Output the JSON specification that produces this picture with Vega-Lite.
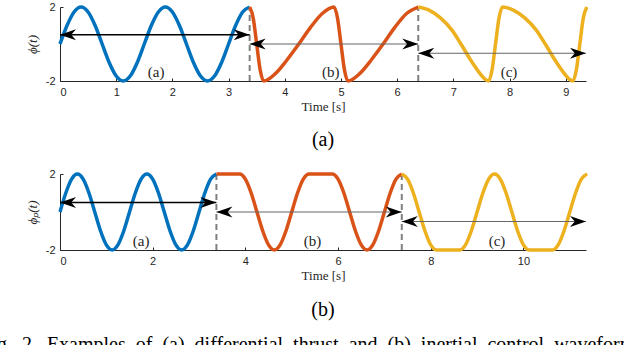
{
  "$schema": "https://vega.github.io/schema/vega-lite/v6.json",
  "background": "white",
  "padding": {"left": -20, "top": 0, "right": 0, "bottom": -10},
  "spacing": 17,
  "config": {
    "view": {"stroke": null},
    "axis": {
      "grid": false,
      "domainColor": "#262626",
      "tickColor": "#262626",
      "labelColor": "#262626",
      "titleColor": "#262626",
      "labelFont": "Liberation Sans",
      "labelFontSize": 11,
      "titleFont": "Liberation Serif",
      "titleFontSize": 13,
      "titleFontWeight": "normal",
      "tickSize": -3,
      "labelPadding": 8,
      "format": "d",
      "labelExpr": "replace(datum.label, '\u2212', '-')"
    },
    "axisY": {"titleFontStyle": "italic", "titlePadding": 6},
    "axisX": {"titlePadding": 3}
  },
  "title": {
    "text": "Fig.\u20022.\u2002Examples\u2002of\u2002(a)\u2002differential\u2002thrust\u2002and\u2002(b)\u2002inertial\u2002control\u2002waveforms.",
    "orient": "bottom",
    "anchor": "start",
    "font": "Liberation Serif",
    "fontSize": 20,
    "fontWeight": "normal",
    "color": "#000000",
    "offset": 15,
    "dx": -46
  },
  "datasets": {
    "w1": [
      {"s":"a","t":0,"v":0},{"s":"a","t":0.125,"v":1},{"s":"a","t":0.25,"v":1.732},{"s":"a","t":0.375,"v":2},{"s":"a","t":0.5,"v":1.732},{"s":"a","t":0.625,"v":1},{"s":"a","t":0.75,"v":0},{"s":"a","t":0.875,"v":-1},{"s":"a","t":1,"v":-1.732},{"s":"a","t":1.125,"v":-2},{"s":"a","t":1.25,"v":-1.732},{"s":"a","t":1.375,"v":-1},{"s":"a","t":1.5,"v":0},{"s":"a","t":1.625,"v":1},{"s":"a","t":1.75,"v":1.732},{"s":"a","t":1.875,"v":2},{"s":"a","t":2,"v":1.732},{"s":"a","t":2.125,"v":1},{"s":"a","t":2.25,"v":0},{"s":"a","t":2.375,"v":-1},{"s":"a","t":2.5,"v":-1.732},{"s":"a","t":2.625,"v":-2},{"s":"a","t":2.75,"v":-1.732},{"s":"a","t":2.875,"v":-1},{"s":"a","t":3,"v":0},{"s":"a","t":3.125,"v":1},{"s":"a","t":3.25,"v":1.732},{"s":"a","t":3.375,"v":2},
      {"s":"b","t":3.375,"v":2},{"s":"b","t":3.4375,"v":1.414},{"s":"b","t":3.5,"v":0},{"s":"b","t":3.5625,"v":-1.414},{"s":"b","t":3.625,"v":-2},{"s":"b","t":3.833,"v":-1.6},{"s":"b","t":4.042,"v":-0.85},{"s":"b","t":4.25,"v":0},{"s":"b","t":4.458,"v":0.9},{"s":"b","t":4.667,"v":1.65},{"s":"b","t":4.875,"v":2},{"s":"b","t":4.9375,"v":1.414},{"s":"b","t":5,"v":0},{"s":"b","t":5.0625,"v":-1.414},{"s":"b","t":5.125,"v":-2},{"s":"b","t":5.333,"v":-1.6},{"s":"b","t":5.542,"v":-0.85},{"s":"b","t":5.75,"v":0},{"s":"b","t":5.958,"v":0.9},{"s":"b","t":6.167,"v":1.65},{"s":"b","t":6.375,"v":2},
      {"s":"c","t":6.375,"v":2},{"s":"c","t":6.575,"v":1.82},{"s":"c","t":6.775,"v":1.4},{"s":"c","t":6.975,"v":0.75},{"s":"c","t":7.135,"v":0},{"s":"c","t":7.325,"v":-0.95},{"s":"c","t":7.475,"v":-1.6},{"s":"c","t":7.575,"v":-1.93},{"s":"c","t":7.625,"v":-2},{"s":"c","t":7.6875,"v":-1.414},{"s":"c","t":7.75,"v":0},{"s":"c","t":7.8125,"v":1.414},{"s":"c","t":7.875,"v":2},{"s":"c","t":8.075,"v":1.82},{"s":"c","t":8.275,"v":1.4},{"s":"c","t":8.475,"v":0.75},{"s":"c","t":8.635,"v":0},{"s":"c","t":8.825,"v":-0.95},{"s":"c","t":8.975,"v":-1.6},{"s":"c","t":9.075,"v":-1.93},{"s":"c","t":9.125,"v":-2},{"s":"c","t":9.1875,"v":-1.414},{"s":"c","t":9.25,"v":0},{"s":"c","t":9.3125,"v":1.414},{"s":"c","t":9.375,"v":2}
    ],
    "w2": [
      {"s":"a","t":0,"v":0},{"s":"a","t":0.125,"v":1},{"s":"a","t":0.25,"v":1.732},{"s":"a","t":0.375,"v":2},{"s":"a","t":0.5,"v":1.732},{"s":"a","t":0.625,"v":1},{"s":"a","t":0.75,"v":0},{"s":"a","t":0.875,"v":-1},{"s":"a","t":1,"v":-1.732},{"s":"a","t":1.125,"v":-2},{"s":"a","t":1.25,"v":-1.732},{"s":"a","t":1.375,"v":-1},{"s":"a","t":1.5,"v":0},{"s":"a","t":1.625,"v":1},{"s":"a","t":1.75,"v":1.732},{"s":"a","t":1.875,"v":2},{"s":"a","t":2,"v":1.732},{"s":"a","t":2.125,"v":1},{"s":"a","t":2.25,"v":0},{"s":"a","t":2.375,"v":-1},{"s":"a","t":2.5,"v":-1.732},{"s":"a","t":2.625,"v":-2},{"s":"a","t":2.75,"v":-1.732},{"s":"a","t":2.875,"v":-1},{"s":"a","t":3,"v":0},{"s":"a","t":3.125,"v":1},{"s":"a","t":3.25,"v":1.732},{"s":"a","t":3.375,"v":2},
      {"s":"b","t":3.375,"v":2},{"s":"b","t":3.875,"v":2},{"s":"b","t":4,"v":1.732},{"s":"b","t":4.125,"v":1},{"s":"b","t":4.25,"v":0},{"s":"b","t":4.375,"v":-1},{"s":"b","t":4.5,"v":-1.732},{"s":"b","t":4.625,"v":-2},{"s":"b","t":4.75,"v":-1.732},{"s":"b","t":4.875,"v":-1},{"s":"b","t":5,"v":0},{"s":"b","t":5.125,"v":1},{"s":"b","t":5.25,"v":1.732},{"s":"b","t":5.375,"v":2},{"s":"b","t":5.875,"v":2},{"s":"b","t":6,"v":1.732},{"s":"b","t":6.125,"v":1},{"s":"b","t":6.25,"v":0},{"s":"b","t":6.375,"v":-1},{"s":"b","t":6.5,"v":-1.732},{"s":"b","t":6.625,"v":-2},{"s":"b","t":6.75,"v":-1.732},{"s":"b","t":6.875,"v":-1},{"s":"b","t":7,"v":0},{"s":"b","t":7.125,"v":1},{"s":"b","t":7.25,"v":1.732},{"s":"b","t":7.375,"v":2},
      {"s":"c","t":7.375,"v":2},{"s":"c","t":7.5,"v":1.732},{"s":"c","t":7.625,"v":1},{"s":"c","t":7.75,"v":0},{"s":"c","t":7.875,"v":-1},{"s":"c","t":8,"v":-1.732},{"s":"c","t":8.125,"v":-2},{"s":"c","t":8.625,"v":-2},{"s":"c","t":8.75,"v":-1.732},{"s":"c","t":8.875,"v":-1},{"s":"c","t":9,"v":0},{"s":"c","t":9.125,"v":1},{"s":"c","t":9.25,"v":1.732},{"s":"c","t":9.375,"v":2},{"s":"c","t":9.5,"v":1.732},{"s":"c","t":9.625,"v":1},{"s":"c","t":9.75,"v":0},{"s":"c","t":9.875,"v":-1},{"s":"c","t":10,"v":-1.732},{"s":"c","t":10.125,"v":-2},{"s":"c","t":10.625,"v":-2},{"s":"c","t":10.75,"v":-1.732},{"s":"c","t":10.875,"v":-1},{"s":"c","t":11,"v":0},{"s":"c","t":11.125,"v":1},{"s":"c","t":11.25,"v":1.732},{"s":"c","t":11.375,"v":2}
    ],
    "ar1": [
      {"s":"a","t":0,"t2":3.375,"v":0.5},
      {"s":"b","t":3.375,"t2":6.375,"v":0},
      {"s":"c","t":6.375,"t2":9.36,"v":-0.5}
    ],
    "ar2": [
      {"s":"a","t":0,"t2":3.375,"v":0.5},
      {"s":"b","t":3.375,"t2":7.375,"v":0},
      {"s":"c","t":7.375,"t2":11.35,"v":-0.5}
    ],
    "d1": [{"t":3.375},{"t":6.375}],
    "d2": [{"t":3.375},{"t":7.375}],
    "l1": [{"t":1.71,"v":-1.5,"label":"(a)"},{"t":4.82,"v":-1.5,"label":"(b)"},{"t":7.99,"v":-1.5,"label":"(c)"}],
    "l2": [{"t":1.75,"v":-1.5,"label":"(a)"},{"t":5.45,"v":-1.5,"label":"(b)"},{"t":9.43,"v":-1.5,"label":"(c)"}]
  },
  "vconcat": [
    {
      "width": 526,
      "height": 74,
      "title": {"text": "(a)", "orient": "bottom", "font": "Liberation Serif", "fontSize": 20, "fontWeight": "normal", "color": "#000000", "offset": 17},
      "layer": [
        {
          "data": {"name": "d1"},
          "mark": {"type": "rule", "strokeDash": [6, 4], "strokeWidth": 2, "color": "#808080"},
          "encoding": {
            "x": {"field": "t", "type": "quantitative"},
            "y": {"datum": -2, "type": "quantitative"},
            "y2": {"datum": 2}
          }
        },
        {
          "data": {"name": "w1"},
          "mark": {"type": "line", "interpolate": "monotone", "strokeWidth": 3.5},
          "encoding": {
            "x": {"field": "t", "type": "quantitative", "scale": {"domain": [0, 9.36], "nice": false, "zero": false},
                  "axis": {"values": [0,1,2,3,4,5,6,7,8,9], "title": "Time [s]"}},
            "y": {"field": "v", "type": "quantitative", "scale": {"domain": [-2, 2], "nice": false},
                  "axis": {"values": [-2,0,2], "title": "\u03d5(t)"}},
            "color": {"field": "s", "type": "nominal", "scale": {"domain": ["a","b","c"], "range": ["#0072BD","#D95319","#EDB120"]}, "legend": null}
          }
        },
        {
          "data": {"name": "ar1"},
          "mark": {"type": "rule"},
          "encoding": {
            "x": {"field": "t", "type": "quantitative"},
            "x2": {"field": "t2"},
            "y": {"field": "v", "type": "quantitative"},
            "stroke": {"field": "s", "type": "nominal", "scale": {"domain": ["a","b","c"], "range": ["#000000","#666666","#666666"]}, "legend": null},
            "strokeWidth": {"field": "s", "type": "ordinal", "scale": {"domain": ["a","b","c"], "range": [1.3, 1, 1]}, "legend": null}
          }
        },
        {
          "data": {"name": "ar1"},
          "transform": [{"fold": ["t", "t2"], "as": ["end", "tx"]}],
          "mark": {"type": "point", "filled": true, "opacity": 1, "size": 256, "color": "#000000"},
          "encoding": {
            "x": {"field": "tx", "type": "quantitative"},
            "y": {"field": "v", "type": "quantitative"},
            "shape": {"field": "end", "type": "nominal", "scale": {"domain": ["t","t2"], "range": ["M0,0L2,-0.7L1.4,0L2,0.7Z", "M0,0L-2,-0.7L-1.4,0L-2,0.7Z"]}, "legend": null}
          }
        },
        {
          "data": {"name": "l1"},
          "mark": {"type": "text", "font": "Liberation Serif", "fontSize": 15, "color": "#262626"},
          "encoding": {
            "x": {"field": "t", "type": "quantitative"},
            "y": {"field": "v", "type": "quantitative"},
            "text": {"field": "label"}
          }
        }
      ]
    },
    {
      "width": 526,
      "height": 76,
      "title": {"text": "(b)", "orient": "bottom", "font": "Liberation Serif", "fontSize": 20, "fontWeight": "normal", "color": "#000000", "offset": 18},
      "layer": [
        {
          "data": {"name": "d2"},
          "mark": {"type": "rule", "strokeDash": [6, 4], "strokeWidth": 2, "color": "#808080"},
          "encoding": {
            "x": {"field": "t", "type": "quantitative"},
            "y": {"datum": -2, "type": "quantitative"},
            "y2": {"datum": 2}
          }
        },
        {
          "data": {"name": "w2"},
          "mark": {"type": "line", "interpolate": "monotone", "strokeWidth": 3.5},
          "encoding": {
            "x": {"field": "t", "type": "quantitative", "scale": {"domain": [0, 11.35], "nice": false, "zero": false},
                  "axis": {"values": [0,2,4,6,8,10], "title": "Time [s]"}},
            "y": {"field": "v", "type": "quantitative", "scale": {"domain": [-2, 2], "nice": false},
                  "axis": {"values": [-2,0,2], "title": "\u03d5\u209a(t)"}},
            "color": {"field": "s", "type": "nominal", "scale": {"domain": ["a","b","c"], "range": ["#0072BD","#D95319","#EDB120"]}, "legend": null}
          }
        },
        {
          "data": {"name": "ar2"},
          "mark": {"type": "rule"},
          "encoding": {
            "x": {"field": "t", "type": "quantitative"},
            "x2": {"field": "t2"},
            "y": {"field": "v", "type": "quantitative"},
            "stroke": {"field": "s", "type": "nominal", "scale": {"domain": ["a","b","c"], "range": ["#000000","#b3b3b3","#5a5a5a"]}, "legend": null},
            "strokeWidth": {"field": "s", "type": "ordinal", "scale": {"domain": ["a","b","c"], "range": [1.3, 1, 2]}, "legend": null}
          }
        },
        {
          "data": {"name": "ar2"},
          "transform": [{"fold": ["t", "t2"], "as": ["end", "tx"]}],
          "mark": {"type": "point", "filled": true, "opacity": 1, "size": 256, "color": "#000000"},
          "encoding": {
            "x": {"field": "tx", "type": "quantitative"},
            "y": {"field": "v", "type": "quantitative"},
            "shape": {"field": "end", "type": "nominal", "scale": {"domain": ["t","t2"], "range": ["M0,0L2,-0.7L1.4,0L2,0.7Z", "M0,0L-2,-0.7L-1.4,0L-2,0.7Z"]}, "legend": null}
          }
        },
        {
          "data": {"name": "l2"},
          "mark": {"type": "text", "font": "Liberation Serif", "fontSize": 15, "color": "#262626"},
          "encoding": {
            "x": {"field": "t", "type": "quantitative"},
            "y": {"field": "v", "type": "quantitative"},
            "text": {"field": "label"}
          }
        }
      ]
    }
  ]
}
